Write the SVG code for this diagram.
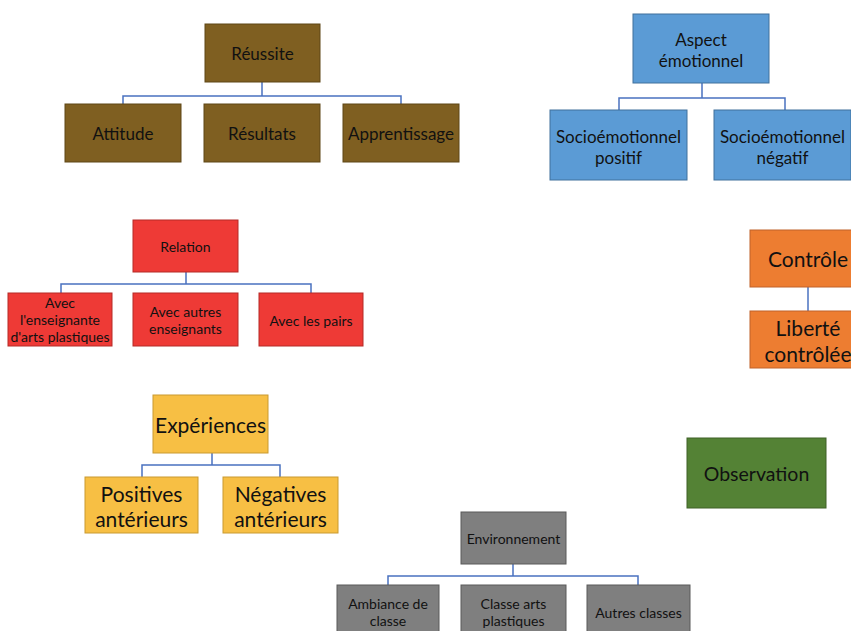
<svg xmlns="http://www.w3.org/2000/svg" width="851" height="631" viewBox="0 0 851 631">
<style>
text{font-family:Lato,"Open Sans","Liberation Sans",sans-serif;fill:#111;text-anchor:middle;dominant-baseline:central}
.m{font-size:17px}
.s{font-size:14px}
.l{font-size:21px}
.br{fill:#7F5F21;stroke:#5E4616;stroke-width:1}
.bl{fill:#5B9BD5;stroke:#41719C;stroke-width:1}
.rd{fill:#EE3A36;stroke:#B52A27;stroke-width:1}
.or{fill:#ED7D31;stroke:#C0622A;stroke-width:1}
.ye{fill:#F7BF44;stroke:#C99A30;stroke-width:1}
.gr{fill:#548235;stroke:#3E6127;stroke-width:1}
.gy{fill:#7F7F7F;stroke:#5A5A5A;stroke-width:1}
.c{fill:none;stroke:#4A72C0;stroke-width:1.5}
</style>
<g id="connectors">
<path class="c" d="M262 82V96M123 104V96H401V104"/>
<path class="c" d="M702 83V98M619 110V98H785V110"/>
<path class="c" d="M186 272V284M61 293V284H311V293"/>
<path class="c" d="M808 287V311"/>
<path class="c" d="M212 453V465M142 477V465H280V477"/>
<path class="c" d="M513 564V576M388 585V576H638V585"/>
</g>
<g id="reussite"><rect class="br" x="205" y="24" width="115" height="58"/><text class="m" x="262.5" y="53">Réussite</text></g>
<g id="attitude"><rect class="br" x="65" y="104" width="116" height="58"/><text class="m" x="123" y="133">Attitude</text></g>
<g id="resultats"><rect class="br" x="204" y="104" width="116" height="58"/><text class="m" x="262" y="133">Résultats</text></g>
<g id="apprentissage"><rect class="br" x="343" y="104" width="116" height="58"/><text class="m" x="401" y="133">Apprentissage</text></g>
<g id="aspect"><rect class="bl" x="633" y="14" width="136" height="69"/><text class="m" x="701" y="39">Aspect</text><text class="m" x="701" y="60">émotionnel</text></g>
<g id="positif"><rect class="bl" x="550" y="110" width="137" height="70"/><text class="m" x="618.5" y="136">Socioémotionnel</text><text class="m" x="618.5" y="157">positif</text></g>
<g id="negatif"><rect class="bl" x="714" y="110" width="137" height="70"/><text class="m" x="782.5" y="136">Socioémotionnel</text><text class="m" x="782.5" y="157">négatif</text></g>
<g id="relation"><rect class="rd" x="133" y="220" width="105" height="52"/><text class="s" x="185.5" y="246">Relation</text></g>
<g id="avec-enseignante"><rect class="rd" x="8" y="293" width="104" height="53"/><text class="s" x="60" y="302">Avec</text><text class="s" x="60" y="319">l'enseignante</text><text class="s" x="60" y="336">d'arts plastiques</text></g>
<g id="avec-autres"><rect class="rd" x="133" y="293" width="105" height="53"/><text class="s" x="185.5" y="311">Avec autres</text><text class="s" x="185.5" y="328">enseignants</text></g>
<g id="avec-pairs"><rect class="rd" x="259" y="293" width="104" height="53"/><text class="s" x="311" y="320">Avec les pairs</text></g>
<g id="controle"><rect class="or" x="750" y="230" width="116" height="57"/><text class="l" x="808" y="258">Contrôle</text></g>
<g id="liberte"><rect class="or" x="750" y="311" width="116" height="57"/><text class="l" x="808" y="327">Liberté</text><text class="l" x="808" y="353">contrôlée</text></g>
<g id="experiences"><rect class="ye" x="153" y="395" width="115" height="58"/><text class="l" x="210.5" y="424">Expériences</text></g>
<g id="positives"><rect class="ye" x="85" y="477" width="113" height="56"/><text class="l" x="141.5" y="493">Positives</text><text class="l" x="141.5" y="518">antérieurs</text></g>
<g id="negatives"><rect class="ye" x="223" y="477" width="115" height="56"/><text class="l" x="280.5" y="493">Négatives</text><text class="l" x="280.5" y="518">antérieurs</text></g>
<g id="observation"><rect class="gr" x="687" y="438" width="139" height="70"/><text x="756.5" y="473" font-size="19.5">Observation</text></g>
<g id="environnement"><rect class="gy" x="461" y="512" width="105" height="52"/><text class="s" x="513.5" y="538">Environnement</text></g>
<g id="ambiance"><rect class="gy" x="337" y="585" width="102" height="53"/><text class="s" x="388" y="603">Ambiance de</text><text class="s" x="388" y="620">classe</text></g>
<g id="classe-arts"><rect class="gy" x="461" y="585" width="105" height="53"/><text class="s" x="513.5" y="603">Classe arts</text><text class="s" x="513.5" y="620">plastiques</text></g>
<g id="autres-classes"><rect class="gy" x="587" y="585" width="103" height="53"/><text class="s" x="638.5" y="612">Autres classes</text></g>
</svg>
